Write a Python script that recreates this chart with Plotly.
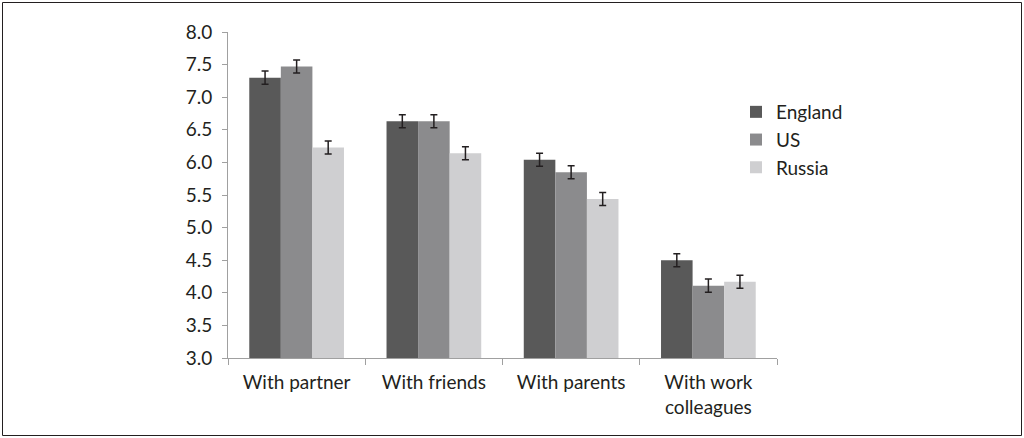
import plotly.graph_objects as go

categories = ["With partner", "With friends", "With parents", "With work<br>colleagues"]
england = [7.30, 6.63, 6.04, 4.50]
us = [7.47, 6.63, 5.85, 4.11]
russia = [6.23, 6.14, 5.44, 4.17]
england_err = [0.10, 0.10, 0.10, 0.10]
us_err = [0.10, 0.10, 0.10, 0.10]
russia_err = [0.10, 0.10, 0.10, 0.10]
y_ticks = [3.0, 3.5, 4.0, 4.5, 5.0, 5.5, 6.0, 6.5, 7.0, 7.5, 8.0]

series = [("England", england, england_err, "#595959"),
          ("US", us, us_err, "#8b8b8d"),
          ("Russia", russia, russia_err, "#cfcfd1")]

fig = go.Figure()
for name, vals, err, col in series:
    fig.add_trace(go.Bar(
        x=categories, y=[v - 3.0 for v in vals], base=3.0, name=name,
        marker=dict(color=col, line=dict(width=0)),
        error_y=dict(type="data", array=err, color="#231f20", thickness=1.5, width=3.5),
    ))

W, H = 1024, 438
L, R, T, B = 228, 777, 32, 358
pw, ph = R - L, B - T

def px(x):
    return (x - L) / pw

def py(y):
    return (B - y) / ph

fig.update_layout(
    width=W, height=H,
    margin=dict(l=L, r=W - R, t=T, b=H - B),
    paper_bgcolor="white", plot_bgcolor="white",
    barmode="group", bargap=0.31, bargroupgap=0,
    font=dict(family="Lato, Open Sans, sans-serif", size=19, color="#231f20"),
    showlegend=True,
    legend=dict(x=px(736), y=py(93), xanchor="left", yanchor="top",
                font=dict(size=19), itemsizing="constant", tracegroupgap=0,
                bgcolor="rgba(0,0,0,0)"),
    xaxis=dict(type="category", showline=True, linecolor="#a0a0a0", linewidth=1,
               ticks="outside", tickson="boundaries", ticklen=6, tickcolor="#a0a0a0",
               showgrid=False, tickfont=dict(size=19), ticklabelstandoff=7),
    yaxis=dict(range=[3.0, 8.0], tickvals=y_ticks,
               ticktext=[f"{v:.1f}" for v in y_ticks],
               showline=True, linecolor="#a0a0a0", linewidth=1,
               ticks="outside", ticklen=5, tickcolor="#a0a0a0",
               showgrid=False, zeroline=False, tickfont=dict(size=19),
               ticklabelstandoff=6),
    shapes=[dict(type="rect", xref="paper", yref="paper",
                 x0=px(2.5), x1=px(1021.5), y0=py(435.5), y1=py(2.5),
                 line=dict(color="#231f20", width=1), fillcolor="rgba(0,0,0,0)",
                 layer="below")],
)

fig.write_html("out.html")
